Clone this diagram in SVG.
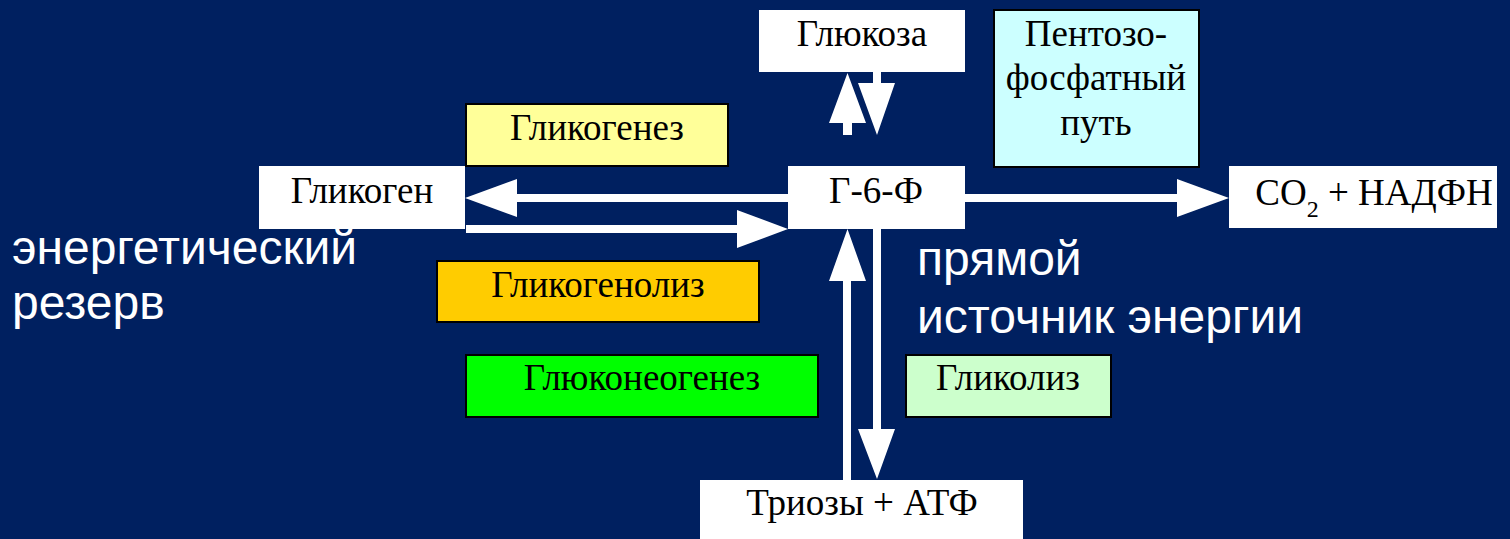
<svg xmlns="http://www.w3.org/2000/svg" width="1510" height="539" viewBox="0 0 1510 539">
<style>
.bg{fill:#002060}
.w{fill:#ffffff}
.bx{stroke:#000000;stroke-width:2}
.t{font-family:"Liberation Serif","Times New Roman",serif;font-size:37px;fill:#000000;text-anchor:middle}
.s{font-family:"Liberation Sans",Arial,sans-serif;font-size:48px;fill:#ffffff}
.arr{fill:#ffffff}
</style>
<rect class="bg" x="0" y="0" width="1510" height="539"/>
<g id="connectors">
<path class="arr" d="M843,135 V123 H829 L847.5,73 L866,123 H852 V135 Z"/>
<path class="arr" d="M873,72 H881 V83 H895 L877,135 L858,83 H873 Z"/>
<path class="arr" d="M788,194 V202 H517 V217 L465,198 L517,179 V194 Z"/>
<path class="arr" d="M466,225 V233 H737 V248 L788,229 L737,210 V225 Z"/>
<path class="arr" d="M965,194 V202 H1177 V217 L1229,198 L1177,179 V194 Z"/>
<path class="arr" d="M843,480 V281 H829 L847.5,229 L866,281 H851 V480 Z"/>
<path class="arr" d="M873,229 H881 V429 H895 L877,479 L858,429 H873 Z"/>
</g>
<g id="glucose">
<rect class="w" x="759" y="10" width="206" height="62"/>
<text class="t" x="862" y="46">Глюкоза</text>
</g>
<g id="pentose">
<rect class="bx" x="994" y="10" width="205" height="157" fill="#CCFFFF"/>
<text class="t" x="1096" y="46">Пентозо-</text>
<text class="t" x="1096" y="90">фосфатный</text>
<text class="t" x="1096" y="135">путь</text>
</g>
<g id="glycogenesis">
<rect class="bx" x="466" y="104" width="262" height="62" fill="#FFFF99"/>
<text class="t" x="597" y="140">Гликогенез</text>
</g>
<g id="glycogen">
<rect class="w" x="259" y="166" width="206" height="63"/>
<text class="t" x="362" y="203">Гликоген</text>
</g>
<g id="g6p">
<rect class="w" x="788" y="166" width="177" height="63"/>
<text class="t" x="876" y="203">Г-6-Ф</text>
</g>
<g id="co2">
<rect class="w" x="1229" y="166" width="268" height="62"/>
<text class="t" x="1374" y="205">CO<tspan font-size="24" dy="12">2</tspan><tspan dy="-12"> + НАДФН</tspan></text>
</g>
<g id="glycogenolysis">
<rect class="bx" x="437" y="261" width="322" height="61" fill="#FFCC00"/>
<text class="t" x="598" y="297">Гликогенолиз</text>
</g>
<g id="gluconeogenesis">
<rect class="bx" x="466" y="355" width="352" height="62" fill="#00FF00"/>
<text class="t" x="642" y="390">Глюконеогенез</text>
</g>
<g id="glycolysis">
<rect class="bx" x="906" y="355" width="205" height="62" fill="#CCFFCC"/>
<text class="t" x="1008" y="390">Гликолиз</text>
</g>
<g id="trioses">
<rect class="w" x="700" y="480" width="323" height="59"/>
<text class="t" x="862" y="515">Триозы + АТФ</text>
</g>
<g id="labels">
<text class="s" x="12" y="264">энергетический</text>
<text class="s" x="12" y="319">резерв</text>
<text class="s" x="917" y="275">прямой</text>
<text class="s" x="917" y="333">источник энергии</text>
</g>
</svg>
